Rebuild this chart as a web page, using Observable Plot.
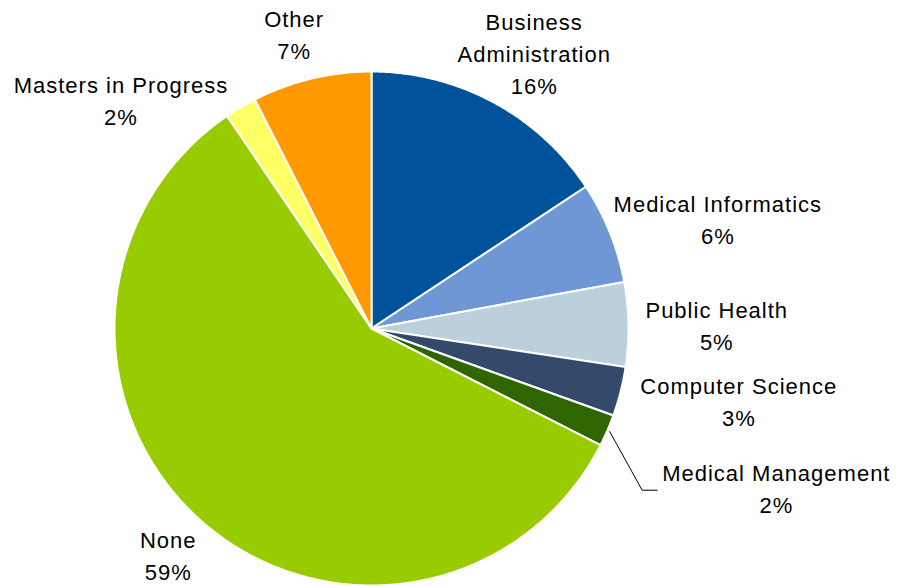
<!DOCTYPE html>
<html><head><meta charset="utf-8">
<script src="https://cdn.jsdelivr.net/npm/d3@7"></script>
<script src="https://cdn.jsdelivr.net/npm/@observablehq/plot@0.6"></script>
<style>body{margin:0;background:#fff}</style>
</head><body><div id="chart"></div>
<script>
// ---- data ----
const categories = ["Business Administration", "Medical Informatics", "Public Health", "Computer Science", "Medical Management", "None", "Masters in Progress", "Other"];
const labelLines = [["Business", "Administration"], ["Medical Informatics"], ["Public Health"], ["Computer Science"], ["Medical Management"], ["None"], ["Masters in Progress"], ["Other"]];
const values = [15.7, 6.4, 5.3, 3.1, 2.0, 58.0, 2.0, 7.5];
const percentLabels = ["16%", "6%", "5%", "3%", "2%", "59%", "2%", "7%"];
const colors = ["#00539B", "#6F97D6", "#BBCFDC", "#35496B", "#2F6600", "#99CC00", "#FFFF66", "#FF9900"];

// ---- layout ----
const W = 904, H = 586, R = 257, CX = 371, CY = 328;
const FONT = 22, LH = 1.45, LS = 1, PAD = 10;
const xDomain = [-CX / R, (W - CX) / R];
const yDomain = [-CY / R, (H - CY) / R];
// label nudges (pixels) for labels moved by the original layout
const labelNudge = {
  "Masters in Progress": [-60, 28],
  "Medical Management": [55, 40],
  "Public Health": [7, 0],
  "Computer Science": [13, -2],
  "None": [-8, 1],
  "Other": [-8, -5],
  "Business Administration": [0, 1],
  "Medical Informatics": [2, 1]
};
const calloutLabels = new Set(["Medical Management"]);

const arcs = d3.pie().sort(null).value(d => d)(values);

// slice polygons
const slicePts = [];
arcs.forEach((a, i) => {
  const cat = categories[i];
  slicePts.push({cat, x: 0, y: 0});
  const n = Math.max(2, Math.ceil((a.endAngle - a.startAngle) / (Math.PI / 360)));
  for (let k = 0; k <= n; k++) {
    const t = a.startAngle + (a.endAngle - a.startAngle) * k / n;
    slicePts.push({cat, x: Math.sin(t), y: -Math.cos(t)});
  }
  slicePts.push({cat, x: 0, y: 0});
});

// text measuring
const ctx = document.createElement("canvas").getContext("2d");
ctx.font = `${FONT}px "Liberation Sans", Arial, sans-serif`;
const textW = s => ctx.measureText(s).width + LS * s.length;

const labels = [];
const leaders = [];
arcs.forEach((a, i) => {
  const cat = categories[i];
  const lines = [...labelLines[i], percentLabels[i]];
  const mid = (a.startAngle + a.endAngle) / 2;
  const ux = Math.sin(mid), uy = -Math.cos(mid);
  const hw = d3.max(lines, textW) / 2;
  const hh = lines.length * FONT * LH / 2;
  let cx = (R + PAD) * ux + hw * ux;
  let cy = (R + PAD) * uy + hh * uy;
  const nd = labelNudge[cat];
  if (nd) { cx += nd[0]; cy += nd[1]; }
  labels.push({text: lines.join("\n"), x: cx / R, y: cy / R});
  if (calloutLabels.has(cat)) {
    const left = cx - hw;
    leaders.push({g: cat, x: ux * 1.01, y: uy * 1.01});
    leaders.push({g: cat, x: (left - 20) / R, y: (cy + 3) / R});
    leaders.push({g: cat, x: (left - 5) / R, y: (cy + 3) / R});
  }
});

const chart = Plot.plot({
  width: W, height: H,
  margin: 0,
  x: {domain: xDomain, axis: null},
  y: {domain: yDomain, range: [0, H], axis: null},
  color: {domain: categories, range: colors},
  style: {background: "#fff", fontFamily: '"Liberation Sans", Arial, sans-serif', letterSpacing: LS + "px", overflow: "visible"},
  marks: [
    Plot.line(slicePts, {x: "x", y: "y", z: "cat", fill: "cat", stroke: "white", strokeWidth: 2, strokeLinejoin: "round", curve: "linear"}),
    Plot.line(leaders, {x: "x", y: "y", z: "g", stroke: "black", strokeWidth: 1}),
    Plot.text(labels, {x: "x", y: "y", text: "text", fontSize: FONT, lineHeight: LH, textAnchor: "middle", lineAnchor: "middle", fill: "black"})
  ]
});
document.getElementById("chart").appendChild(chart);
</script>
</body></html>
